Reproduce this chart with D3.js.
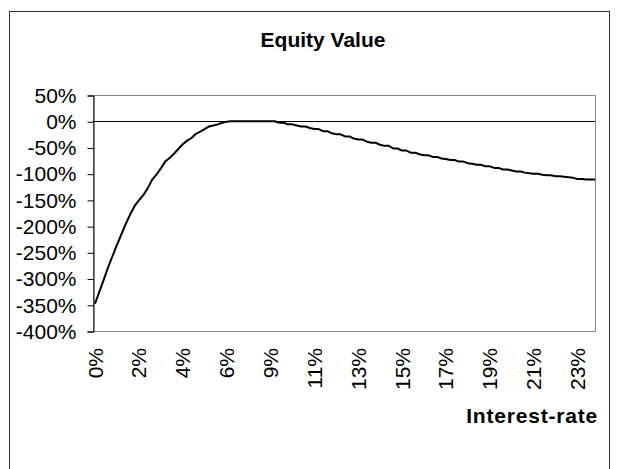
<!DOCTYPE html>
<html>
<head>
<meta charset="utf-8">
<script src="https://cdn.jsdelivr.net/npm/d3@7/dist/d3.min.js"></script>
<style>
  body { margin: 0; background: #fff; }
  text { font-family: "Liberation Sans", Arial, sans-serif; }
</style>
</head>
<body>
<div id="chart"></div>
<script>
// Equity value (%) per interest-rate step
const equityValues = [
  -348, -325, -302, -278, -257, -236, -216, -196, -178, -162,
  -151, -141, -128, -112, -102, -90, -77, -70, -62, -53,
  -44, -37, -32, -24, -20, -15, -10, -8, -6, -3,
  -1, 0, 0, 0, 0, 0, 0, 0, 0, 0,
  0, 0, -3, -3, -6, -6, -8, -10, -10, -13,
  -15, -15, -19, -19, -23, -25, -25, -29, -29, -33,
  -35, -35, -39, -41, -41, -45, -47, -47, -52, -52,
  -56, -56, -60, -60, -63, -65, -65, -68, -68, -71,
  -72, -74, -74, -77, -77, -80, -81, -83, -83, -86,
  -86, -89, -89, -92, -92, -94, -96, -96, -98, -99,
  -100, -100, -102, -103, -103, -105, -105, -106, -107, -108,
  -110, -110, -111, -111, -111
];

// category labels shown on every 10th step
const xTickLabels = ["0%", "2%", "4%", "6%", "9%", "11%", "13%", "15%", "17%", "19%", "21%", "23%"];
const labelEvery = 10;

const yTicks = [50, 0, -50, -100, -150, -200, -250, -300, -350, -400];

const width = 618;
const height = 469;
const plot = { left: 93, right: 595, top: 95, bottom: 331 };

const svg = d3.select("#chart")
    .append("svg")
    .attr("width", width)
    .attr("height", height)
    .style("display", "block");

svg.append("rect")
    .attr("width", width)
    .attr("height", height)
    .attr("fill", "#fff");

// outer chart border (bottom edge runs off the picture)
svg.append("rect")
    .attr("x", 9.5)
    .attr("y", 11.5)
    .attr("width", 600)
    .attr("height", 480)
    .attr("fill", "none")
    .attr("stroke", "#333")
    .attr("stroke-width", 1);

const x = d3.scalePoint()
    .domain(d3.range(equityValues.length))
    .range([95, plot.right]);

const y = d3.scaleLinear()
    .domain([-400, 50])
    .range([plot.bottom, plot.top]);

// plot area frame
svg.append("rect")
    .attr("x", plot.left + 0.5)
    .attr("y", plot.top + 0.5)
    .attr("width", plot.right - plot.left)
    .attr("height", plot.bottom - plot.top)
    .attr("fill", "none")
    .attr("stroke", "#888")
    .attr("stroke-width", 1);

// value axis
const yAxis = svg.append("g")
    .attr("transform", `translate(${plot.left + 0.5},0.5)`)
    .call(d3.axisLeft(y)
        .tickValues(yTicks)
        .tickSize(6)
        .tickPadding(11)
        .tickFormat(d => d + "%"));

yAxis.select(".domain").attr("stroke", "#000");
yAxis.selectAll(".tick line").attr("stroke", "#000");
yAxis.selectAll("text")
    .attr("fill", "#000")
    .style("font-size", "21px");

// category axis sits at 0%
svg.append("line")
    .attr("x1", plot.left)
    .attr("x2", plot.right)
    .attr("y1", Math.round(y(0)) + 0.5)
    .attr("y2", Math.round(y(0)) + 0.5)
    .attr("stroke", "#000")
    .attr("stroke-width", 1);

// category labels, rotated, along the bottom
svg.append("g")
    .selectAll("text")
    .data(xTickLabels)
    .enter()
    .append("text")
    .attr("transform", (d, i) => `translate(${x(i * labelEvery)},348) rotate(-90)`)
    .attr("text-anchor", "end")
    .attr("dy", "0.36em")
    .style("font-size", "21px")
    .attr("fill", "#000")
    .text(d => d);

// the series
const line = d3.line()
    .x((d, i) => x(i))
    .y(d => y(d));

svg.append("path")
    .datum(equityValues)
    .attr("d", line)
    .attr("fill", "none")
    .attr("stroke", "#000")
    .attr("stroke-width", 2)
    .attr("stroke-linejoin", "round");

// title and axis title
svg.append("text")
    .attr("x", 323)
    .attr("y", 47)
    .attr("text-anchor", "middle")
    .style("font-size", "21px")
    .style("font-weight", "bold")
    .text("Equity Value");

svg.append("text")
    .attr("x", 598)
    .attr("y", 423)
    .attr("text-anchor", "end")
    .style("font-size", "21px")
    .style("font-weight", "bold")
    .style("letter-spacing", "0.8px")
    .text("Interest-rate");
</script>
</body>
</html>
